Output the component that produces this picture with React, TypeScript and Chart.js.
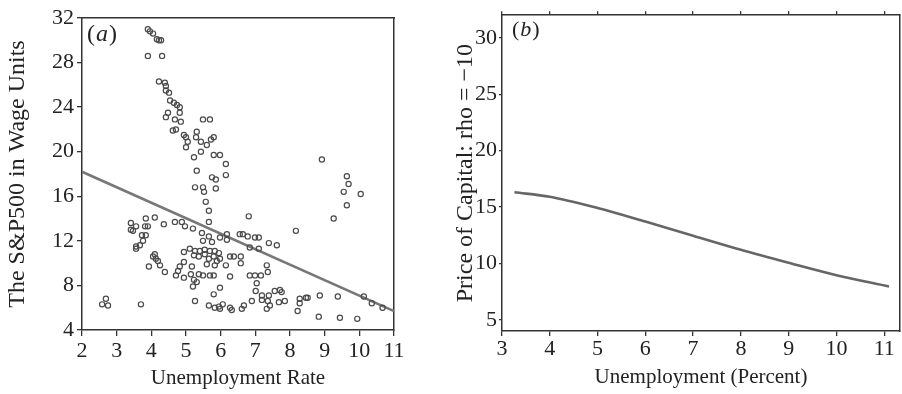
import React, { useEffect, useRef } from "react";
import { Chart, registerables } from "chart.js";

Chart.register(...registerables);

const FONT = "'Liberation Serif', 'Times New Roman', serif";

// Panel (a): scatter of S&P500 in wage units vs unemployment rate
const scatterX = [
  3.90, 3.96, 4.05, 4.16, 4.22, 4.28, 3.90, 4.31, 4.22, 4.39, 4.42, 4.42, 4.51, 4.54, 4.65, 4.74, 4.82, 4.82, 4.48, 4.42,
  4.68, 4.85, 5.49, 5.69, 4.62, 4.71, 4.94, 5.00, 5.05, 5.00, 5.31, 5.29, 5.43, 5.60, 5.72, 5.80, 5.43, 5.23, 5.80, 5.98,
  6.15, 5.31, 6.15, 5.75, 5.86, 5.26, 5.49, 5.52, 5.86, 5.57, 5.66, 5.66, 6.81, 8.92, 9.64, 9.69, 9.55, 10.04, 9.64, 9.26,
  8.17, 3.41, 3.56, 3.41, 3.47, 3.84, 3.82, 3.90, 3.73, 3.84, 3.76, 3.67, 3.56, 3.56, 4.10, 4.36, 4.68, 4.88, 4.97, 4.10,
  4.05, 4.13, 4.19, 4.25, 3.93, 4.39, 4.71, 4.77, 4.82, 4.94, 4.94, 4.94, 2.69, 2.58, 2.75, 3.70, 5.20, 5.46, 5.66, 5.49,
  5.75, 5.98, 6.18, 6.18, 6.55, 6.64, 6.78, 6.99, 7.10, 7.39, 7.62, 6.84, 7.10, 5.11, 5.26, 5.40, 5.54, 5.69, 5.83, 5.95,
  5.23, 5.37, 5.54, 5.66, 5.80, 5.89, 5.98, 5.60, 5.83, 6.15, 6.27, 6.38, 6.58, 6.58, 5.17, 5.14, 5.23, 5.20, 5.31, 5.37,
  5.49, 5.69, 5.80, 6.27, 6.84, 6.99, 7.16, 7.33, 7.36, 7.04, 5.98, 5.80, 7.01, 7.19, 7.39, 7.56, 7.71, 7.76, 7.19, 7.36,
  7.42, 7.33, 7.68, 7.85, 6.90, 5.26, 5.66, 5.83, 5.95, 5.98, 6.06, 6.27, 6.32, 6.61, 6.67, 8.28, 8.46, 8.51, 8.28, 8.22,
  8.86, 9.38, 10.13, 10.36, 10.67, 8.83, 9.44, 9.94,
];
const scatterY = [
  31.0, 30.8, 30.6, 30.1, 30.0, 30.0, 28.6, 28.6, 26.3, 26.2, 25.9, 25.5, 25.3, 24.6, 24.4, 24.2, 24.0, 23.5, 23.5, 23.1,
  22.9, 22.7, 22.9, 22.9, 21.9, 22.0, 21.5, 21.3, 20.9, 20.4, 21.8, 21.3, 20.9, 20.6, 21.1, 21.3, 20.0, 19.5, 19.7, 19.7,
  18.9, 18.3, 17.9, 17.7, 17.5, 16.8, 16.8, 16.4, 16.7, 15.5, 14.7, 13.7, 14.2, 19.3, 17.8, 17.1, 16.4, 16.2, 15.2, 14.0,
  12.9, 13.6, 13.3, 13.0, 12.9, 14.0, 13.3, 13.3, 12.5, 12.5, 12.0, 11.6, 11.5, 11.3, 14.1, 13.5, 13.7, 13.7, 13.3, 10.8,
  10.6, 10.4, 10.2, 9.8, 9.7, 9.2, 8.9, 9.3, 9.7, 8.7, 11.0, 10.1, 6.8, 6.3, 6.2, 6.3, 13.1, 12.7, 12.4, 12.0,
  11.9, 12.3, 12.6, 12.1, 12.6, 12.6, 12.4, 12.3, 12.3, 11.8, 11.6, 11.4, 11.3, 11.3, 11.1, 11.1, 11.2, 11.1, 11.1, 10.9,
  10.7, 10.6, 10.8, 10.4, 10.6, 10.2, 10.4, 9.9, 9.8, 9.8, 10.6, 10.6, 10.6, 10.0, 9.7, 9.0, 8.5, 7.9, 8.3, 9.0,
  8.9, 8.9, 8.9, 8.8, 8.9, 8.9, 8.9, 9.8, 9.2, 8.2, 7.8, 7.2, 7.5, 7.1, 7.1, 7.5, 7.6, 7.4, 6.7, 6.6,
  6.2, 5.9, 6.5, 6.6, 6.6, 6.6, 6.2, 6.0, 6.1, 5.9, 6.3, 6.0, 5.8, 5.9, 6.2, 6.8, 6.9, 6.9, 6.4, 5.7,
  7.1, 7.0, 7.0, 6.4, 6.0, 5.2, 5.1, 5.0,
];
const fitX = [2, 11];
const fitY = [18.2, 5.7];
const xTicksA = [2, 3, 4, 5, 6, 7, 8, 9, 10, 11];
const yTicksA = [4, 8, 12, 16, 20, 24, 28, 32];

// Panel (b): price of capital curve
const curveX = [3.26, 4, 5, 6, 7, 8, 9, 10, 11.1];
const curveY = [16.3, 15.9, 14.9, 13.7, 12.45, 11.2, 10.05, 8.95, 7.95];
const xTicksB = [3, 4, 5, 6, 7, 8, 9, 10, 11];
const yTicksB = [5, 10, 15, 20, 25, 30];

const AXIS = "#333";
const TXT = "#222";

function setTicks(vals: number[]) {
  return (s: any) => {
    s.ticks = vals.map((v) => ({ value: v }));
  };
}

function panelLabel(letter: string, dx: number, dy: number, size: number) {
  return {
    id: "panelLabel" + letter,
    afterDraw(chart: any) {
      const { ctx, chartArea } = chart;
      ctx.save();
      ctx.fillStyle = TXT;
      ctx.textBaseline = "alphabetic";
      let x = chartArea.left + dx;
      const y = chartArea.top + dy;
      ctx.font = `${size}px ${FONT}`;
      ctx.fillText("(", x, y);
      x += ctx.measureText("(").width + 1;
      ctx.font = `italic ${size}px ${FONT}`;
      ctx.fillText(letter, x, y);
      x += ctx.measureText(letter).width + 1;
      ctx.font = `${size}px ${FONT}`;
      ctx.fillText(")", x, y);
      ctx.restore();
    },
  };
}

export default function App() {
  const refA = useRef<HTMLCanvasElement>(null);
  const refB = useRef<HTMLCanvasElement>(null);

  useEffect(() => {
    const tickFont = { family: FONT, size: 22 };
    const xTitleFont = { family: FONT, size: 21 };
    const yTitleFont = { family: FONT, size: 24 };

    const chartA = new Chart(refA.current!, {
      type: "scatter",
      data: {
        datasets: [
          {
            type: "scatter",
            data: scatterX.map((x, i) => ({ x, y: scatterY[i] })),
            pointStyle: "circle",
            pointRadius: 2.6,
            pointBorderWidth: 1.2,
            pointBorderColor: "#4a4a4a",
            pointBackgroundColor: "rgba(255,255,255,0)",
          } as any,
          {
            type: "line",
            data: fitX.map((x, i) => ({ x, y: fitY[i] })),
            borderColor: "#777",
            borderWidth: 2.6,
            pointRadius: 0,
            fill: false,
          } as any,
        ],
      },
      options: {
        animation: false,
        responsive: false,
        maintainAspectRatio: false,
        layout: { padding: { left: 0, right: 56, top: 18, bottom: 0 } },
        plugins: { legend: { display: false }, tooltip: { enabled: false } },
        scales: {
          x: {
            type: "linear",
            position: "bottom",
            min: 2,
            max: 11,
            afterBuildTicks: setTicks(xTicksA),
            afterFit: (s: any) => { s.height = 64; },
            grid: { display: true, drawOnChartArea: false, drawTicks: true, tickLength: 6, color: AXIS, lineWidth: 1.3 },
            border: { display: true, color: AXIS, width: 1.5 },
            ticks: { font: tickFont, color: TXT, padding: 2, maxRotation: 0, autoSkip: false },
            title: { display: true, text: "Unemployment Rate", font: xTitleFont, color: TXT, padding: { top: 0, bottom: 3 } },
          },
          y: {
            type: "linear",
            position: "left",
            min: 4,
            max: 32,
            afterBuildTicks: setTicks(yTicksA),
            afterFit: (s: any) => { s.width = 82; },
            grid: { display: true, drawOnChartArea: false, drawTicks: true, tickLength: 5, color: AXIS, lineWidth: 1.3 },
            border: { display: true, color: AXIS, width: 1.5 },
            ticks: { font: tickFont, color: TXT, padding: 3, autoSkip: false },
            title: { display: true, text: "The S&P500 in Wage Units", font: yTitleFont, color: TXT, padding: { top: 3, bottom: 0 } },
          },
          x2: {
            type: "linear",
            position: "top",
            min: 2,
            max: 11,
            afterFit: (s: any) => { s.height = 0; },
            grid: { display: false },
            border: { display: true, color: AXIS, width: 1.5 },
            ticks: { display: false },
          },
          y2: {
            type: "linear",
            position: "right",
            min: 4,
            max: 32,
            afterFit: (s: any) => { s.width = 0; },
            grid: { display: false },
            border: { display: true, color: AXIS, width: 1.5 },
            ticks: { display: false },
          },
        },
      } as any,
      plugins: [panelLabel("a", 5, 23, 24)],
    });

    const chartB = new Chart(refB.current!, {
      type: "line",
      data: {
        datasets: [
          {
            data: curveX.map((x, i) => ({ x, y: curveY[i] })),
            borderColor: "#666",
            borderWidth: 2.6,
            pointRadius: 0,
            fill: false,
            cubicInterpolationMode: "monotone",
          } as any,
        ],
      },
      options: {
        animation: false,
        responsive: false,
        maintainAspectRatio: false,
        layout: { padding: { left: 0, right: 2, top: 12, bottom: 0 } },
        plugins: { legend: { display: false }, tooltip: { enabled: false } },
        scales: {
          x: {
            type: "linear",
            position: "bottom",
            min: 3,
            max: 11.33,
            afterBuildTicks: setTicks(xTicksB),
            afterFit: (s: any) => { s.height = 63; },
            grid: { display: true, drawOnChartArea: false, drawTicks: true, tickLength: 5, color: AXIS, lineWidth: 1.3 },
            border: { display: true, color: AXIS, width: 1.5 },
            ticks: { font: tickFont, color: TXT, padding: 0, maxRotation: 0, autoSkip: false },
            title: { display: true, text: "Unemployment (Percent)", font: xTitleFont, color: TXT, padding: { top: 0, bottom: 4 } },
          },
          y: {
            type: "linear",
            position: "left",
            min: 4,
            max: 32,
            afterBuildTicks: setTicks(yTicksB),
            afterFit: (s: any) => { s.width = 52; },
            grid: { display: true, drawOnChartArea: false, drawTicks: true, tickLength: 3, color: AXIS, lineWidth: 1.3 },
            border: { display: true, color: AXIS, width: 1.5 },
            ticks: { font: tickFont, color: TXT, padding: 2, autoSkip: false },
            title: { display: true, text: "Price of Capital: rho = \u221210", font: yTitleFont, color: TXT, padding: { top: 1, bottom: 0 } },
          },
          x2: {
            type: "linear",
            position: "top",
            min: 3,
            max: 11.33,
            afterBuildTicks: setTicks(xTicksB),
            afterFit: (s: any) => { s.height = 0; },
            grid: { display: true, drawOnChartArea: false, drawTicks: true, tickLength: 4, color: AXIS, lineWidth: 1.3 },
            border: { display: true, color: AXIS, width: 1.5 },
            ticks: { display: false },
          },
          y2: {
            type: "linear",
            position: "right",
            min: 4,
            max: 32,
            afterFit: (s: any) => { s.width = 0; },
            grid: { display: false },
            border: { display: true, color: AXIS, width: 1.5 },
            ticks: { display: false },
          },
        },
      } as any,
      plugins: [panelLabel("b", 10, 21, 22)],
    });

    return () => {
      chartA.destroy();
      chartB.destroy();
    };
  }, []);

  return (
    <div style={{ position: "absolute", left: 0, top: 0, width: 902, height: 394, background: "#fff" }}>
      <canvas ref={refA} width={450} height={394} style={{ position: "absolute", left: 0, top: 0, width: 450, height: 394 }} />
      <canvas ref={refB} width={452} height={394} style={{ position: "absolute", left: 450, top: 0, width: 452, height: 394 }} />
    </div>
  );
}
